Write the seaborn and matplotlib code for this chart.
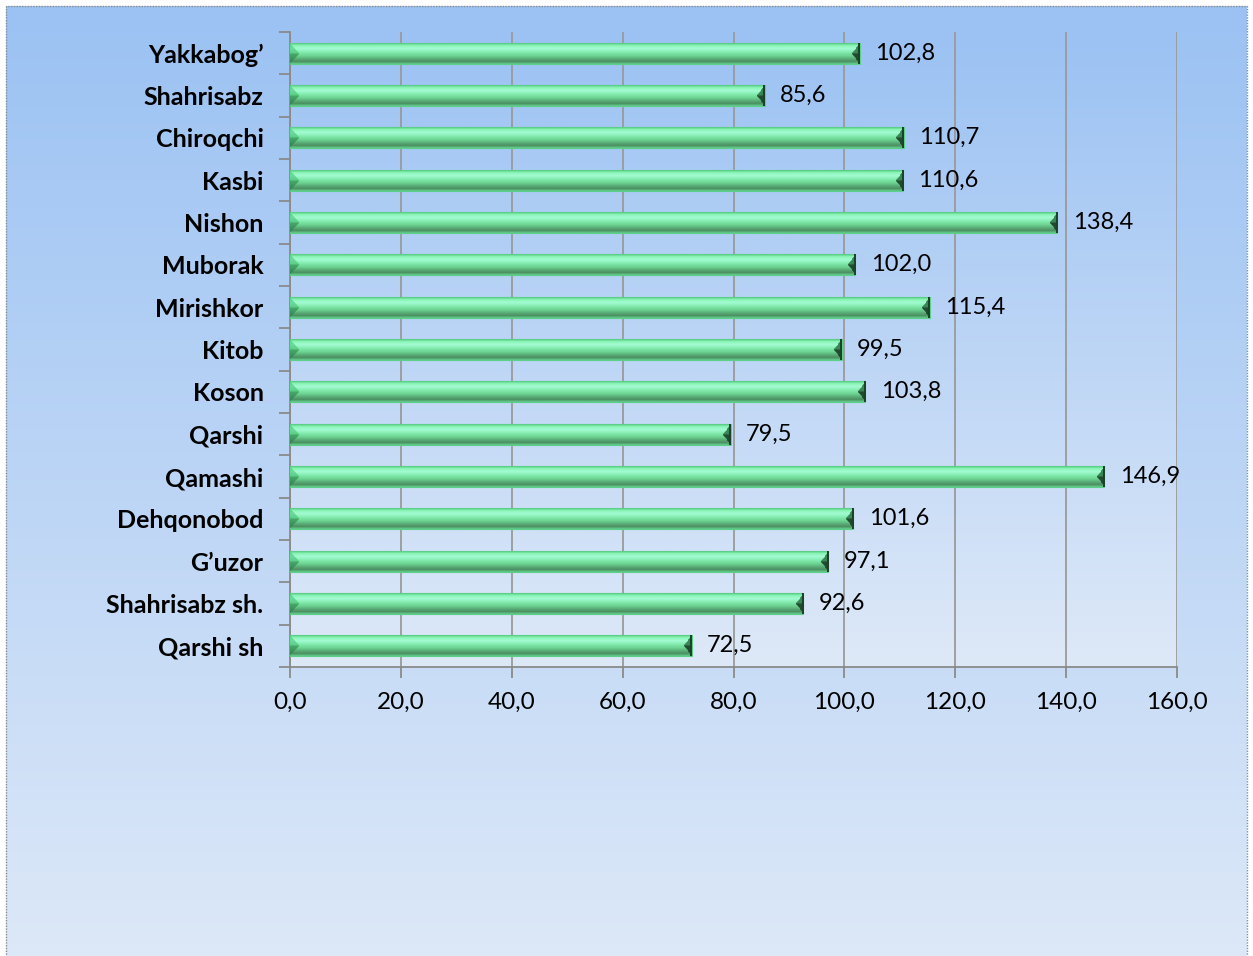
import numpy as np
import pandas as pd
import matplotlib
matplotlib.use("Agg")
import matplotlib.pyplot as plt
import matplotlib.colors as mcolors
from matplotlib.ticker import FuncFormatter
from matplotlib.patches import Rectangle
import seaborn as sns

categories = ["Yakkabog\u2019", "Shahrisabz", "Chiroqchi", "Kasbi", "Nishon",
              "Muborak", "Mirishkor", "Kitob", "Koson", "Qarshi", "Qamashi",
              "Dehqonobod", "G\u2019uzor", "Shahrisabz sh.", "Qarshi sh"]
values = [102.8, 85.6, 110.7, 110.6, 138.4, 102.0, 115.4, 99.5, 103.8, 79.5,
          146.9, 101.6, 97.1, 92.6, 72.5]
x_ticks = [0, 20, 40, 60, 80, 100, 120, 140, 160]

sns.set_theme(style="white")
plt.rcParams['font.family'] = ['Lato', 'DejaVu Sans']

W_PX, H_PX = 1253, 956
fig = plt.figure(figsize=(W_PX / 100, H_PX / 100), dpi=100)
fig.patch.set_facecolor("white")

top_c = np.array(mcolors.to_rgb("#9bc2f3"))
bot_c = np.array(mcolors.to_rgb("#dee9f8"))

# chart-area background gradient
bg_ax = fig.add_axes([0, 0, 1, 1], zorder=-10)
bg_ax.set_axis_off()
t = np.linspace(0, 1, 256)[:, None, None]
grad = top_c * (1 - t) + bot_c * t
grad = np.repeat(grad, 2, axis=1)
x0f, x1f = 6 / W_PX, 1247 / W_PX
y1f = 1 - 6 / H_PX
bg_ax.set_xlim(0, 1)
bg_ax.set_ylim(0, 1)
bg_ax.imshow(grad, extent=[x0f, x1f, -0.02, y1f], aspect="auto", origin="upper")
bg_ax.add_patch(Rectangle((x0f, -0.02), x1f - x0f, y1f + 0.02, fill=False,
                          edgecolor="#8c8c8c", linestyle=(0, (1, 1)), linewidth=1))

ax = fig.add_axes([290 / W_PX, 1 - 667 / H_PX, 887 / W_PX, 635 / H_PX])
ax.patch.set_visible(False)

df = pd.DataFrame({"region": categories, "value": values})
sns.barplot(data=df, x="value", y="region", orient="h", ax=ax,
            color="#6fe09a", width=0.49, zorder=3)

ax.set_xlim(0, 160)
ax.set_ylim(14.5, -0.5)

# plot-area gradient
pa = top_c * (1 - t) + bot_c * t
pa = np.repeat(pa, 2, axis=1)
ax.imshow(pa, extent=[0, 1, 0, 1], transform=ax.transAxes, aspect="auto",
          origin="upper", zorder=0)
ax.set_xlim(0, 160)
ax.set_ylim(14.5, -0.5)

# gradient bars
fig.canvas.draw()
prof_pos = [0.0, 0.1, 0.25, 0.45, 0.62, 0.78, 0.9, 1.0]
prof_col = ["#5ccf88", "#8af4b6", "#a4fcd3", "#80eaab", "#6bd290", "#58a976",
            "#4b8f61", "#5fc386"]
prof_rgb = np.array([mcolors.to_rgb(c) for c in prof_col])
for p in list(ax.patches):
    bx, by, bw, bh = p.get_x(), p.get_y(), p.get_width(), p.get_height()
    (px0, py0), (px1, py1) = ax.transData.transform([(bx, by), (bx + bw, by + bh)])
    Wp = max(int(abs(px1 - px0)), 2)
    Hp = max(int(abs(py1 - py0)), 2)
    rows = np.linspace(0, 1, Hp)
    prof = np.stack([np.interp(rows, prof_pos, prof_rgb[:, k]) for k in range(3)], axis=1)
    img = np.repeat(prof[:, None, :], Wp, axis=1)
    rr = np.arange(Hp)[:, None]
    cc = np.arange(Wp)[None, :]
    dist = np.minimum(rr, Hp - 1 - rr)
    left = cc < dist
    upper = rr < Hp / 2
    img[left & upper] = img[left & upper] * 0.5 + np.array(mcolors.to_rgb("#36b862")) * 0.5
    img[left & ~upper] = img[left & ~upper] * 0.4 + np.array(mcolors.to_rgb("#2a8046")) * 0.6
    right = (Wp - 1 - cc) < dist * 0.8
    img[right & upper] = np.array(mcolors.to_rgb("#3a8656"))
    img[right & ~upper] = np.array(mcolors.to_rgb("#214a30"))
    img[:, -2:] = np.array(mcolors.to_rgb("#1d4229"))
    im = ax.imshow(img, extent=[bx, bx + bw, by + bh, by], aspect="auto",
                   origin="upper", zorder=4, interpolation="bilinear")
    im.set_clip_path(p)
    p.set_edgecolor("#5ccf88")
    p.set_linewidth(0.8)
ax.set_xlim(0, 160)
ax.set_ylim(14.5, -0.5)

labels = [f"{v:.1f}".replace(".", ",") for v in values]
ax.bar_label(ax.containers[0], labels=labels, padding=11, fontsize=17,
             color="#000000", zorder=6)

ax.set_xticks(x_ticks)
ax.xaxis.set_major_formatter(FuncFormatter(lambda v, pos: f"{v:.1f}".replace(".", ",")))
ax.grid(axis="x", color="#9a9a9a", linewidth=1.3, zorder=1)
ax.set_axisbelow(True)
ax.set_yticks(np.arange(-0.5, 15, 1), minor=True)
ax.tick_params(axis="y", which="major", length=0, pad=19, labelsize=18,
               labelcolor="#000000")
ax.tick_params(axis="y", which="minor", length=8, width=1.3, color="#8a8a8a",
               direction="out", left=True)
ax.tick_params(axis="x", which="major", length=8, width=1.3, color="#8a8a8a",
               direction="out", bottom=True, pad=10, labelsize=17.5,
               labelcolor="#000000")
for lbl in ax.get_yticklabels():
    lbl.set_fontweight("bold")
for s in ["top", "right"]:
    ax.spines[s].set_visible(False)
for s in ["left", "bottom"]:
    ax.spines[s].set_color("#8a8a8a")
    ax.spines[s].set_linewidth(1.3)
ax.set_xlabel("")
ax.set_ylabel("")

fig.savefig("out.png", dpi=100)
